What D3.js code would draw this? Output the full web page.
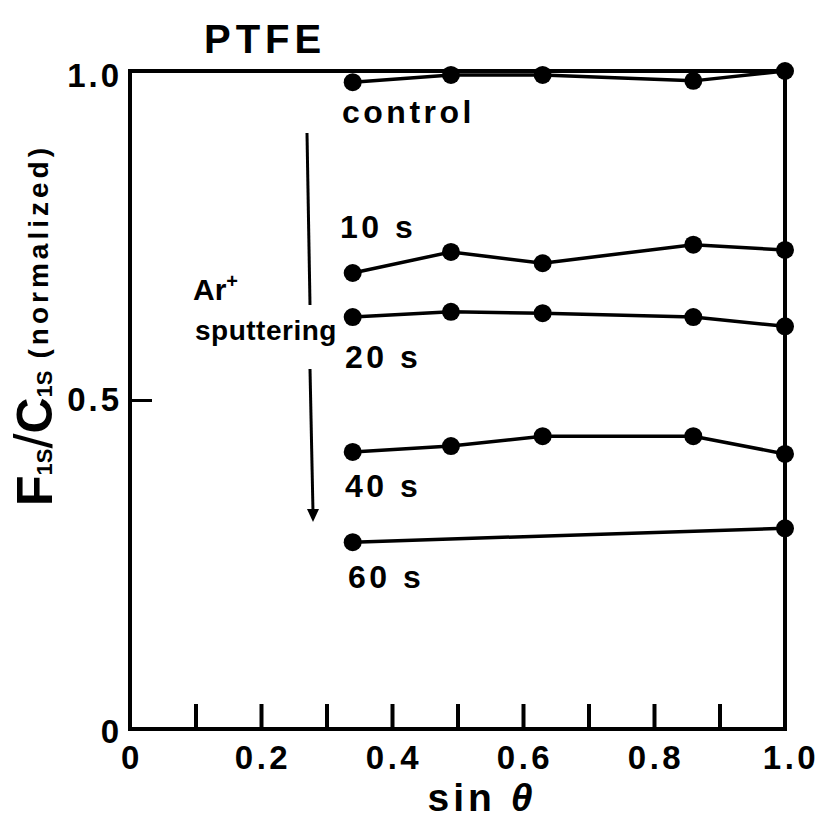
<!DOCTYPE html>
<html>
<head>
<meta charset="utf-8">
<script src="https://cdn.jsdelivr.net/npm/d3@7/dist/d3.min.js"></script>
<style>
  html, body { margin: 0; padding: 0; background: #fff; }
  svg { display: block; }
  text { font-family: "Liberation Sans", Arial, Helvetica, sans-serif; font-weight: bold; fill: #000; }
</style>
</head>
<body>
<svg id="chart" width="824" height="821"></svg>
<script>
// ---- data ----
const sinTheta = [0.34, 0.49, 0.63, 0.86, 1.0];
const controlVals = [0.983, 0.994, 0.994, 0.985, 1.0];
const s10Vals = [0.693, 0.725, 0.708, 0.736, 0.728];
const s20Vals = [0.626, 0.634, 0.632, 0.626, 0.612];
const s40Vals = [0.421, 0.430, 0.445, 0.445, 0.418];
const s60X = [0.34, 1.0];
const s60Vals = [0.284, 0.305];
const seriesNames = ["control", "10 s", "20 s", "40 s", "60 s"];

const xTickValues = [0.1, 0.2, 0.3, 0.4, 0.5, 0.6, 0.7, 0.8, 0.9];
const xLabelValues = [0, 0.2, 0.4, 0.6, 0.8, 1.0];
const xLabelText = ["0", "0.2", "0.4", "0.6", "0.8", "1.0"];
const yTickValues = [0.5];
const yLabelValues = [0, 0.5, 1.0];
const yLabelText = ["0", "0.5", "1.0"];

// ---- layout ----
const svg = d3.select("#chart");
const L = 130, R = 785, T = 71, B = 729;
const x = d3.scaleLinear().domain([0, 1]).range([L, R]);
const y = d3.scaleLinear().domain([0, 1]).range([B, T]);

// frame
svg.append("rect")
  .attr("x", x(0)).attr("y", y(1))
  .attr("width", x(1) - x(0)).attr("height", y(0) - y(1))
  .attr("fill", "none").attr("stroke", "#000").attr("stroke-width", 4);

// bottom ticks (inward)
const xAxis = svg.append("g").attr("transform", `translate(0,${y(0)})`)
  .call(d3.axisBottom(x).tickValues(xTickValues).tickSizeInner(-25).tickSizeOuter(0).tickFormat(""));
xAxis.select(".domain").remove();
xAxis.selectAll("line").attr("stroke", "#000").attr("stroke-width", 4);

// left ticks (inward)
const yAxis = svg.append("g").attr("transform", `translate(${x(0)},0)`)
  .call(d3.axisLeft(y).tickValues(yTickValues).tickSizeInner(-22).tickSizeOuter(0).tickFormat(""));
yAxis.select(".domain").remove();
yAxis.selectAll("line").attr("stroke", "#000").attr("stroke-width", 3);

// x tick labels
svg.append("g").selectAll("text").data(xLabelValues).join("text")
  .attr("x", (d, i) => x(d) + (i === xLabelValues.length - 1 ? 6 : 2))
  .attr("y", y(0) + 40)
  .attr("text-anchor", "middle")
  .style("font-size", "33px")
  .style("letter-spacing", "3.5px")
  .text((d, i) => xLabelText[i]);

// y tick labels
const yLabelDy = [14, 11, 16];
svg.append("g").selectAll("text").data(yLabelValues).join("text")
  .attr("x", x(0) - 8)
  .attr("y", (d, i) => y(d) + yLabelDy[i])
  .attr("text-anchor", "end")
  .style("font-size", "33px")
  .style("letter-spacing", "3px")
  .text((d, i) => yLabelText[i]);

// x axis title
const xt = svg.append("text")
  .attr("x", 482).attr("y", 811)
  .attr("text-anchor", "middle")
  .style("font-size", "39px")
  .style("letter-spacing", "4px");
xt.append("tspan").text("sin ");
xt.append("tspan").style("font-style", "italic").text("θ");

// y axis title
const yt = svg.append("text")
  .attr("transform", "translate(52,325) rotate(-90)")
  .attr("text-anchor", "middle");
yt.append("tspan").style("font-size", "50px").text("F");
yt.append("tspan").style("font-size", "22px").text("1S");
yt.append("tspan").style("font-size", "54px").style("font-weight", "normal").text("/");
yt.append("tspan").style("font-size", "50px").text("C");
yt.append("tspan").style("font-size", "22px").text("1S");
yt.append("tspan").style("font-size", "28px").style("letter-spacing", "4px")
  .attr("dx", 12).attr("dy", -4).text("(normalized)");

// title
svg.append("text").attr("x", 204).attr("y", 53)
  .style("font-size", "40px").style("letter-spacing", "5px").text("PTFE");

// series
const series = [
  { name: seriesNames[0], xs: sinTheta, ys: controlVals },
  { name: seriesNames[1], xs: sinTheta, ys: s10Vals },
  { name: seriesNames[2], xs: sinTheta, ys: s20Vals },
  { name: seriesNames[3], xs: sinTheta, ys: s40Vals },
  { name: seriesNames[4], xs: s60X, ys: s60Vals }
];
const line = d3.line().x(d => x(d[0])).y(d => y(d[1]));
series.forEach(s => {
  const pts = s.xs.map((v, i) => [v, s.ys[i]]);
  svg.append("path").datum(pts)
    .attr("d", line).attr("fill", "none")
    .attr("stroke", "#000").attr("stroke-width", 3.5);
  svg.append("g").selectAll("circle").data(pts).join("circle")
    .attr("cx", d => x(d[0])).attr("cy", d => y(d[1])).attr("r", 9).attr("fill", "#000");
});

// series labels
const labelPos = [[342, 123], [340, 238], [345, 368], [345, 497], [348, 588]];
svg.append("g").selectAll("text").data(seriesNames).join("text")
  .attr("x", (d, i) => labelPos[i][0])
  .attr("y", (d, i) => labelPos[i][1])
  .style("font-size", "32px")
  .style("letter-spacing", "3.5px")
  .text(d => d);

// Ar+ sputtering annotation
const ar = svg.append("text").attr("x", 193).attr("y", 300).style("font-size", "30px");
ar.append("tspan").text("Ar");
ar.append("tspan").attr("dy", -12).style("font-size", "20px").text("+");
svg.append("text").attr("x", 195).attr("y", 340)
  .style("font-size", "28px").style("letter-spacing", "0.5px").text("sputtering");

svg.append("line").attr("x1", 307).attr("y1", 133).attr("x2", 310).attr("y2", 305)
  .attr("stroke", "#000").attr("stroke-width", 3);
svg.append("line").attr("x1", 310).attr("y1", 369).attr("x2", 313).attr("y2", 512)
  .attr("stroke", "#000").attr("stroke-width", 3);
svg.append("path").attr("d", "M307,509 L319,509 L313,522 Z").attr("fill", "#000");
</script>
</body>
</html>
